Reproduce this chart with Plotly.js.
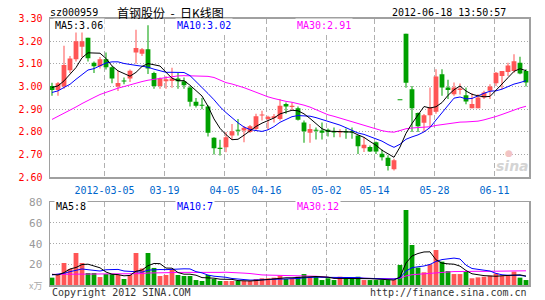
<!DOCTYPE html>
<html><head><meta charset="utf-8">
<script src="https://cdn.plot.ly/plotly-3.0.1.min.js"></script>
<style>html,body{margin:0;padding:0;background:#fff}#chart{width:545px;height:300px}</style>
</head><body><div id="chart"></div>
<script>
// ---- data ----
const dates = ['2012-02-21','2012-02-22','2012-02-23','2012-02-24','2012-02-27','2012-02-28','2012-02-29','2012-03-01','2012-03-02',
'2012-03-05','2012-03-06','2012-03-07','2012-03-08','2012-03-09','2012-03-12','2012-03-13','2012-03-14','2012-03-15','2012-03-16',
'2012-03-19','2012-03-20','2012-03-21','2012-03-22','2012-03-23','2012-03-26','2012-03-27','2012-03-28','2012-03-29','2012-03-30',
'2012-04-05','2012-04-06','2012-04-09','2012-04-10','2012-04-11','2012-04-12','2012-04-13',
'2012-04-16','2012-04-17','2012-04-18','2012-04-19','2012-04-20','2012-04-23','2012-04-24','2012-04-25','2012-04-26','2012-04-27',
'2012-05-02','2012-05-03','2012-05-04','2012-05-07','2012-05-08','2012-05-09','2012-05-10','2012-05-11',
'2012-05-14','2012-05-15','2012-05-16','2012-05-17','2012-05-18','2012-05-21','2012-05-22','2012-05-23','2012-05-24','2012-05-25',
'2012-05-28','2012-05-29','2012-05-30','2012-05-31','2012-06-01','2012-06-04','2012-06-05','2012-06-06','2012-06-07','2012-06-08',
'2012-06-11','2012-06-12','2012-06-13','2012-06-14','2012-06-15','2012-06-18'];

const openP = [3.003,2.985,3.00,3.072,3.12,3.175,3.215,3.105,3.09,3.12, 3.085,3.00,3.025,3.035,3.15,3.145,3.165,3.06,3.003,3.023,
 3.025,3.035,3.023,2.996,2.933,2.918,2.912,2.774,2.73,2.733, 2.784,2.81,2.806,2.80,2.813,2.872,2.857,2.861,2.857,2.923,
 2.91,2.904,2.842,2.796,2.81,2.806,2.81,2.80,2.798,2.80, 2.80,2.784,2.728,2.734,2.755,2.704,2.686,2.635,2.94,3.233,
 2.988,2.883,2.84,2.874,2.889,3.054,2.996,2.966,2.985,2.962, 2.904,2.904,2.952,2.981,3.015,3.047,3.064,3.069,3.105,3.069];
const highP = [3.017,3.02,3.18,3.135,3.25,3.25,3.215,3.11,3.13,3.15, 3.09,3.07,3.04,3.075,3.25,3.17,3.27,3.065,3.04,3.045,
 3.083,3.06,3.04,3.003,2.95,2.95,2.918,2.777,2.766,2.80, 2.835,2.857,2.826,2.83,2.88,2.893,2.871,2.879,2.945,2.93,
 2.93,2.912,2.85,2.835,2.82,2.842,2.815,2.82,2.812,2.815, 2.82,2.784,2.777,2.74,2.758,2.723,2.697,2.682,2.94,3.233,
 3.003,2.886,2.879,2.996,3.076,3.076,3.03,3.018,3.013,2.996, 2.97,2.966,2.981,3.01,3.064,3.069,3.105,3.142,3.131,3.076];
const lowP = [2.96,2.96,2.99,3.06,3.11,3.13,3.11,3.06,3.08,3.075, 3.015,2.98,3.01,3.02,3.10,3.135,3.055,2.99,2.99,2.99,
 2.995,2.99,2.99,2.912,2.908,2.90,2.78,2.70,2.696,2.71, 2.766,2.784,2.755,2.795,2.805,2.85,2.81,2.842,2.85,2.88,
 2.895,2.85,2.752,2.752,2.767,2.767,2.78,2.777,2.777,2.77, 2.77,2.703,2.711,2.711,2.703,2.674,2.63,2.63,2.94,2.995,
 2.80,2.80,2.80,2.82,2.88,2.96,2.945,2.96,2.965,2.922, 2.904,2.904,2.945,2.945,3.003,2.988,3.047,3.061,3.054,3.00];
const closeP = [2.985,3.015,3.095,3.124,3.20,3.20,3.125,3.09,3.12,3.085, 3.035,3.016,3.022,3.07,3.17,3.165,3.08,3.003,3.035,3.032,
 3.035,3.023,3.006,2.933,2.915,2.915,2.796,2.728,2.725,2.777, 2.803,2.805,2.818,2.825,2.869,2.877,2.867,2.869,2.915,2.912,
 2.915,2.854,2.803,2.813,2.805,2.796,2.80,2.798,2.804,2.798, 2.798,2.737,2.743,2.714,2.714,2.688,2.65,2.675,2.94,3.017,
 2.904,2.825,2.874,2.908,3.044,2.996,2.985,2.996,2.991,2.934, 2.923,2.952,2.974,3.00,3.061,3.069,3.093,3.112,3.058,3.018];
// volume, 万手
const volume = [7.1,9.7,21.3,15.5,31,21.3,11.6,11.6,7.7,10.6, 10.6,9.7,5.8,9.7,31,16,31,16.5,8.7,9.7,
 15.5,9.7,8.7,8.7,4.8,3.9,9.7,5.8,3.9,3.9, 3.9,3.9,3.9,3.9,5.8,6.5,6.5,7.1,9,5.8,
 6.5,8,10.6,8,8,4.8,6.5,4.8,8,6.5, 6.5,8,4.8,4.8,4.8,4.8,4.8,4.8,19.4,72.6,
 38.7,16.8,12.3,20,33.9,22.6,13.5,10.6,10.6,12.9, 6.5,7.4,8,9,11.3,9,9,12.9,7.1,4.8];

// moving-average values at the left edge (their windows start before the first candle)
const ma5Head  = [2.996,3.003,3.025,3.054];
const ma10Head = [2.974,2.981,2.996,3.01,3.032,3.054,3.073,3.079,3.09];
const ma30Head = [2.855,2.868,2.882,2.896,2.91,2.925,2.94,2.952,2.965,2.975,2.985,2.993,3.0,3.008,3.016,3.022,3.028,3.032,3.036,3.04,3.044,3.047,3.048,3.048,3.048,3.047,3.045,3.04,3.03];
const vma5Head  = [10.3,9.7,12,15.5];
const vma10Head = [9.7,10.3,11.3,12.9,14.5,15.5,14.8,14.2,13.5];
const vma30Head = [10.3,10.3,10.3,10.3,10.3,10.3,10.3,10.3,10.3,10.3,10.3,10.3,10.3,10.3,10.8,11.0,11.6,11.8,11.8,11.9,12.1,12.2,12.2,12.2,12.1,12.1,12.2,12.2,12.2];

const tickDates  = ['2012-03-05','2012-03-19','2012-04-05','2012-04-16','2012-05-02','2012-05-14','2012-05-28','2012-06-11'];
const tickLabels = ['2012-03-05','03-19','04-05','04-16','05-02','05-14','05-28','06-11'];
const priceTicks = [2.6,2.7,2.8,2.9,3.0,3.1,3.2,3.3];
const volTicks   = [20,40,60,80];
const legendPrice = ['MA5:3.06','MA10:3.02','MA30:2.91'];
const legendVol   = ['MA5:8','MA10:7','MA30:12'];

// ---- drawing ----
const RED = '#ff5555', GREEN = '#00a000';
const idx = dates.map((d,i)=>i);
const cols = idx.map(i => closeP[i] > openP[i] ? RED : GREEN);
function mavg(vals, n, head){
  return vals.map((v,i)=>{
    if(i < n-1) return head[i];
    let s = 0; for(let k=i-n+1;k<=i;k++) s += vals[k]; return s/n;
  });
}
const W = 545, H = 300;
const px = x => x / W, py = y => 1 - y / H;
const mono = 'DejaVu Sans Mono';
const NB = '\u00a0';

const traces = [
  {type:'bar', x:idx, base:lowP, y:idx.map(i=>highP[i]-lowP[i]), width:0.17,
   marker:{color:cols, line:{width:0}}, xaxis:'x', yaxis:'y', hoverinfo:'skip'},
  {type:'bar', x:idx, base:idx.map(i=>Math.min(openP[i],closeP[i])),
   y:idx.map(i=>Math.max(Math.abs(closeP[i]-openP[i]),0.0045)), width:0.8,
   marker:{color:cols, line:{width:0}}, xaxis:'x', yaxis:'y', hoverinfo:'skip'},
  {type:'scatter', mode:'lines', x:idx, y:mavg(closeP,30,ma30Head), line:{color:'#ff00ff',width:1}, xaxis:'x', yaxis:'y'},
  {type:'scatter', mode:'lines', x:idx, y:mavg(closeP,10,ma10Head), line:{color:'#0000ff',width:1}, xaxis:'x', yaxis:'y'},
  {type:'scatter', mode:'lines', x:idx, y:mavg(closeP,5,ma5Head), line:{color:'#000000',width:1}, xaxis:'x', yaxis:'y'},
  {type:'bar', x:idx, y:volume, width:0.8, marker:{color:cols, line:{width:0}}, xaxis:'x2', yaxis:'y2', hoverinfo:'skip'},
  {type:'scatter', mode:'lines', x:idx, y:mavg(volume,30,vma30Head), line:{color:'#ff00ff',width:1}, xaxis:'x2', yaxis:'y2'},
  {type:'scatter', mode:'lines', x:idx, y:mavg(volume,10,vma10Head), line:{color:'#0000ff',width:1}, xaxis:'x2', yaxis:'y2'},
  {type:'scatter', mode:'lines', x:idx, y:mavg(volume,5,vma5Head), line:{color:'#000000',width:1}, xaxis:'x2', yaxis:'y2'}
];

const tickPos = tickDates.map(d => dates.indexOf(d) - 0.25);
const xdom = [px(50), px(529)];
const xr = [-0.333, 79.5];
const gridX = {showgrid:true, gridcolor:'#b0b0b0', griddash:'5px,3px', gridwidth:1,
  showline:true, mirror:true, linecolor:'#a0a0a0', linewidth:1.5, zeroline:false};
const gridY = {showgrid:true, gridcolor:'#a8a8a8', griddash:'1px,2px', gridwidth:1,
  showline:true, mirror:true, linecolor:'#a0a0a0', linewidth:1.5, zeroline:false};

function ann(text, x, y, opts){
  return Object.assign({text, xref:'paper', yref:'paper', x:px(x), y:py(y), xanchor:'left', yanchor:'middle',
    showarrow:false, font:{family:mono, size:10, color:'#000'}}, opts||{});
}

const layout = {
  width:W, height:H, margin:{l:0,r:0,t:0,b:0}, paper_bgcolor:'#fff', plot_bgcolor:'#fff',
  showlegend:false, barmode:'overlay', font:{family:mono, size:10},
  xaxis: Object.assign({domain:xdom, range:xr, anchor:'y', tickmode:'array', tickvals:tickPos, ticktext:tickLabels,
    tickfont:{family:mono, size:10, color:'#0066cc'}, ticks:'outside', ticklen:3, tickcolor:'rgba(0,0,0,0)'}, gridX),
  xaxis2: Object.assign({domain:xdom, range:xr, anchor:'y2', matches:'x', tickmode:'array', tickvals:tickPos,
    showticklabels:false, ticks:''}, gridX),
  yaxis: Object.assign({domain:[py(177.3), py(18.5)], range:[2.6,3.3], anchor:'x', tickmode:'array',
    tickvals:priceTicks, ticktext:priceTicks.map(v=>v.toFixed(2)),
    tickfont:{family:mono, size:10, color:'#ff0000'}, ticks:'outside', ticklen:4, tickcolor:'rgba(0,0,0,0)'}, gridY),
  yaxis2: Object.assign({domain:[py(285), py(202.3)], range:[0,80], anchor:'x2', tickmode:'array',
    tickvals:volTicks, tickfont:{family:mono, size:11, color:'#999999'}, ticks:'outside', ticklen:4, tickcolor:'rgba(0,0,0,0)'}, gridY),
  annotations: [
    ann('sz000959', 48, 12),
    ann('首钢股份'+NB+NB+'-'+NB+NB+'日K线图', 115, 12, {font:{family:'Noto Sans CJK SC', size:12, color:'#000'}}),
    ann('2012-06-18 13:50:57', 508, 12, {xanchor:'right'}),
    ann(legendPrice[0], 53, 25, {bgcolor:'#fff', borderpad:1}),
    ann(legendPrice[1], 175, 25, {bgcolor:'#fff', borderpad:1, font:{family:mono,size:10,color:'#0000ff'}}),
    ann(legendPrice[2], 295, 25, {bgcolor:'#fff', borderpad:1, font:{family:mono,size:10,color:'#ff00ff'}}),
    ann(legendVol[0], 54, 207, {bgcolor:'#fff', borderpad:1}),
    ann(legendVol[1], 175, 207, {bgcolor:'#fff', borderpad:1, font:{family:mono,size:10,color:'#0000ff'}}),
    ann(legendVol[2], 295, 207, {bgcolor:'#fff', borderpad:1, font:{family:mono,size:10,color:'#ff00ff'}}),
    ann('x万', 44, 285, {xanchor:'right', font:{family:'Noto Sans CJK SC', size:9, color:'#aaaaaa'}}),
    ann('Copyright 2012 SINA.COM', 50, 292, {font:{family:mono,size:10,color:'#333'}}),
    ann('http://finance.sina.com.cn', 529, 292, {xanchor:'right', font:{family:mono,size:10,color:'#333'}}),
    ann('<b><i>sina</i></b>', 512, 166, {xanchor:'center', font:{family:'DejaVu Sans', size:14, color:'#d4d4d4'}}),
    ann('●', 509, 153, {xanchor:'center', font:{family:'DejaVu Sans', size:9, color:'#f2c4c4'}})
  ]
};
Plotly.newPlot('chart', traces, layout, {staticPlot:true, displayModeBar:false});
</script></body></html>
